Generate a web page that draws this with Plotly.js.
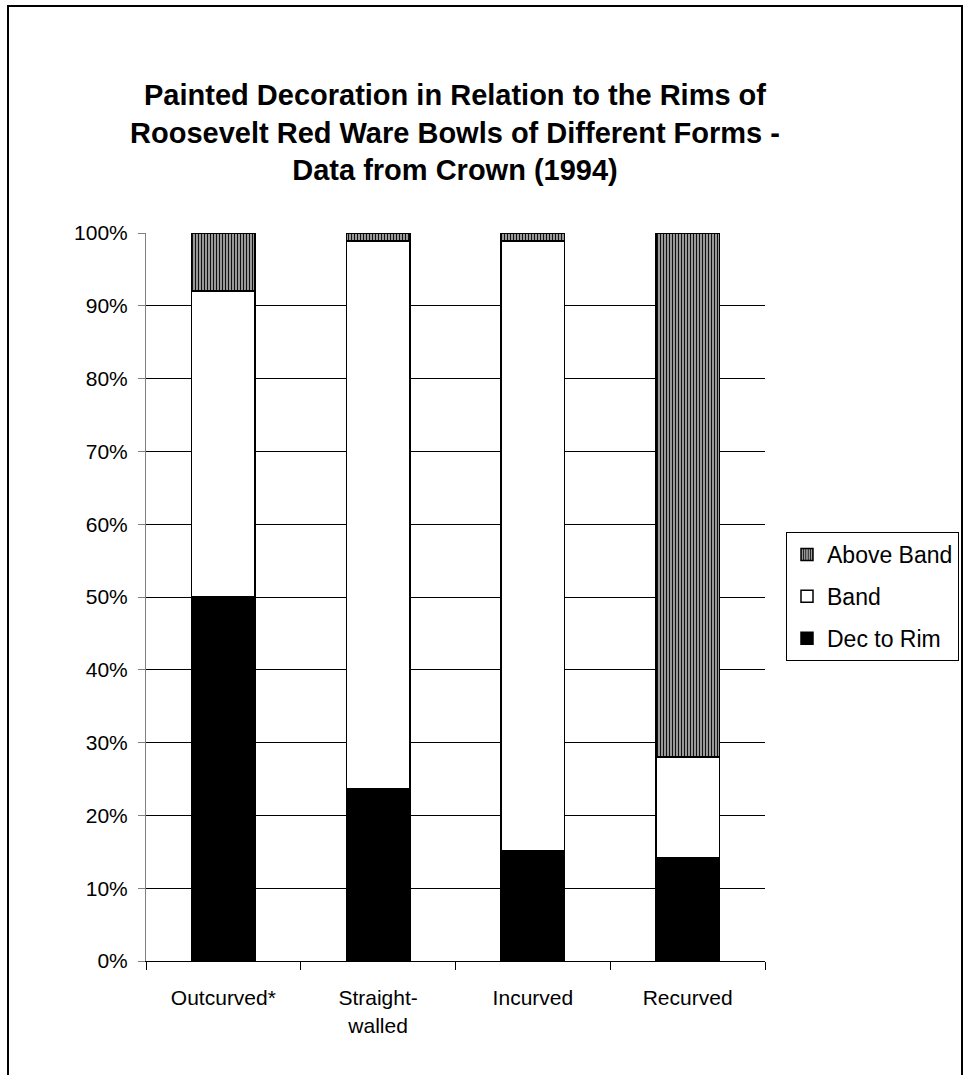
<!DOCTYPE html>
<html>
<head>
<meta charset="utf-8">
<script src="https://cdn.plot.ly/plotly-3.0.1.min.js"></script>
<style>
  html, body { margin: 0; padding: 0; background: #fff; }
  #chart { width: 964px; height: 1075px; }
</style>
</head>
<body>
<div id="chart"></div>
<script>
// Categories (bowl forms)
const categories = ["Outcurved*", "Straight-<br>walled", "Incurved", "Recurved"];
// Percent of bowls in each form
const decToRim  = [50.0, 23.7, 15.2, 14.2];
const band      = [42.0, 75.2, 83.7, 13.8];
const aboveBand = [8.0, 1.1, 1.1, 72.0];
const yTicks = [0, 10, 20, 30, 40, 50, 60, 70, 80, 90, 100];
const yTickText = yTicks.map(v => v + "%");

const font = "Liberation Sans, Arial, sans-serif";
const line = { color: "#000", width: 1.5 };

const traces = [
  {
    type: "bar", name: "Dec to Rim", x: categories, y: decToRim,
    legendgroup: "a", legendrank: 3,
    marker: { color: "#000000", line: line }
  },
  {
    type: "bar", name: "Band", x: categories, y: band,
    legendgroup: "b", legendrank: 2,
    marker: { color: "#ffffff", line: line }
  },
  {
    type: "bar", name: "Above Band", x: categories, y: aboveBand,
    legendgroup: "c", legendrank: 1,
    marker: {
      color: "#a0a0a0", line: line,
      pattern: { shape: "|", fgcolor: "#111111", bgcolor: "#a8a8a8", size: 3, solidity: 0.4 }
    }
  }
];

const layout = {
  width: 964, height: 1075,
  paper_bgcolor: "#fff", plot_bgcolor: "#fff",
  margin: { l: 146, r: 199, t: 233, b: 114 },
  barmode: "stack",
  bargap: 0.59,
  font: { family: font, size: 21, color: "#000" },
  title: {
    text: "<b>Painted Decoration in Relation to the Rims of<br>Roosevelt Red Ware Bowls of Different Forms -<br>Data from Crown (1994)</b>",
    font: { family: font, size: 29, color: "#000" },
    x: 0.472, xanchor: "center", y: 0.9025, yanchor: "top"
  },
  xaxis: {
    type: "category",
    showline: true, linecolor: "#000", linewidth: 1,
    ticks: "outside", tickson: "boundaries", ticklen: 8, tickcolor: "#000",
    showgrid: false,
    tickfont: { family: font, size: 21 },
    ticklabelstandoff: 18,
    automargin: false
  },
  yaxis: {
    range: [0, 100],
    tickvals: yTicks, ticktext: yTickText,
    showline: true, linecolor: "#808080", linewidth: 1,
    ticks: "outside", ticklen: 7, tickcolor: "#808080",
    showgrid: true, gridcolor: "#000", gridwidth: 1,
    zeroline: false,
    tickfont: { family: font, size: 21 },
    ticklabelstandoff: 6,
    automargin: false
  },
  legend: {
    xref: "container", yref: "container",
    x: 786 / 964, xanchor: "left", y: 1 - 532 / 1075, yanchor: "top",
    bordercolor: "#000", borderwidth: 1, bgcolor: "#fff",
    font: { family: font, size: 23 },
    traceorder: "grouped", tracegroupgap: 9,
    itemwidth: 30
  },
  shapes: [
    {
      type: "rect", xref: "paper", yref: "paper",
      x0: (8 - 146) / 619, x1: (962 - 146) / 619,
      y0: (961 - 1085) / 728, y1: (961 - 6) / 728,
      line: { color: "#000", width: 2 }, fillcolor: "rgba(0,0,0,0)", layer: "below"
    }
  ],
  showlegend: true
};

Plotly.newPlot("chart", traces, layout, { displayModeBar: false, staticPlot: true });
</script>
</body>
</html>
